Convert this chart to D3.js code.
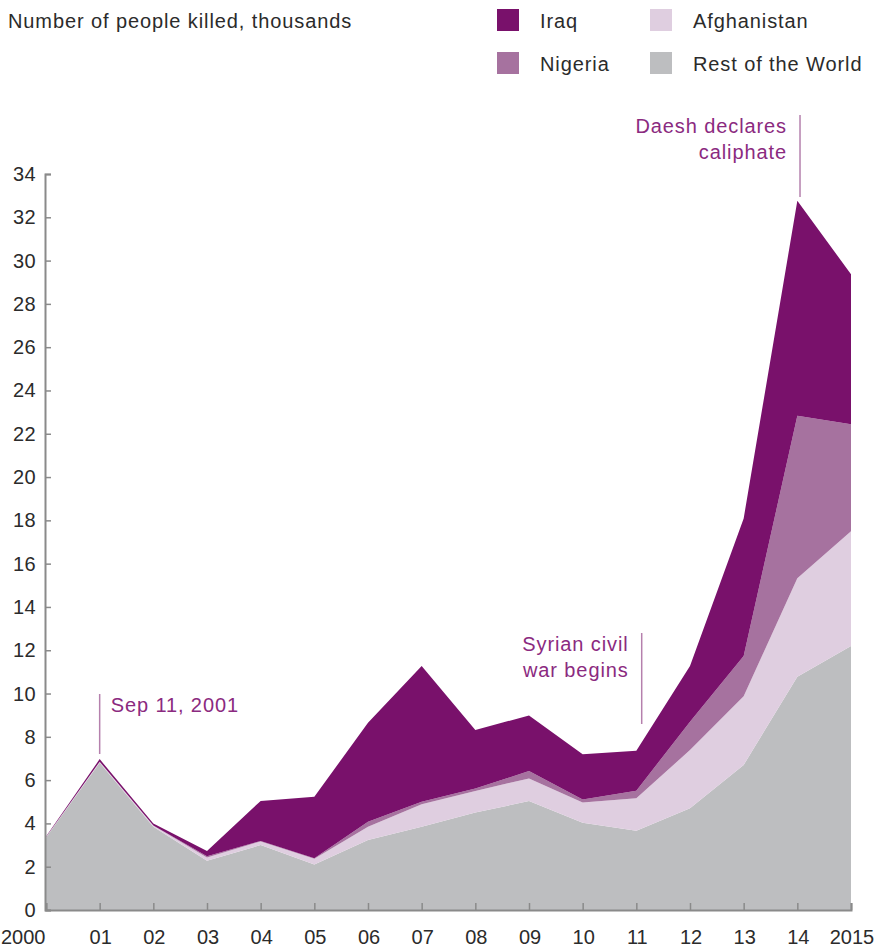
<!DOCTYPE html>
<html>
<head>
<meta charset="utf-8">
<script src="https://cdn.jsdelivr.net/npm/d3@7"></script>
<style>
  html, body { margin: 0; padding: 0; background: #fff; }
  svg { display: block; }
  text { font-family: "Liberation Sans", "Helvetica Neue", Arial, sans-serif; letter-spacing: 0.9px; }
  text.num { letter-spacing: 0.4px; }
  text.xlab { letter-spacing: 0; }
</style>
</head>
<body>
<svg id="chart" width="892" height="948"></svg>
<script>
// Deaths from terrorism, thousands
const years = [2000, 2001, 2002, 2003, 2004, 2005, 2006, 2007, 2008, 2009, 2010, 2011, 2012, 2013, 2014, 2015];
const restOfWorld = [3.35, 6.8, 3.85, 2.28, 3.0, 2.1, 3.23, 3.85, 4.5, 5.03, 4.03, 3.66, 4.70, 6.70, 10.78, 12.19];
const afghanistan = [0.02, 0.05, 0.05, 0.15, 0.17, 0.27, 0.62, 1.03, 1.0, 1.05, 0.94, 1.5, 2.69, 3.18, 4.54, 5.31];
const nigeria     = [0, 0, 0, 0.05, 0.02, 0.02, 0.23, 0.12, 0.11, 0.34, 0.14, 0.35, 1.31, 1.85, 7.51, 4.94];
const iraq        = [0.03, 0.12, 0.1, 0.25, 1.85, 2.84, 4.57, 6.27, 2.7, 2.57, 2.08, 1.85, 2.57, 6.36, 9.93, 6.93];

const xTickLabels = ["2000", "01", "02", "03", "04", "05", "06", "07", "08", "09", "10", "11", "12", "13", "14", "2015"];
const yTicks = [0, 2, 4, 6, 8, 10, 12, 14, 16, 18, 20, 22, 24, 26, 28, 30, 32, 34];

const seriesKeys = ["Rest of the World", "Afghanistan", "Nigeria", "Iraq"];
const seriesColors = {
  "Rest of the World": "#bdbec0",
  "Afghanistan": "#dfcee0",
  "Nigeria": "#a6729f",
  "Iraq": "#79116b"
};
const legendOrder = ["Iraq", "Afghanistan", "Nigeria", "Rest of the World"];

const events = [
  { year: 2001, lines: ["Sep 11, 2001"], side: "right", top: 694, bottom: 754 },
  { year: 2011.1, lines: ["Syrian civil", "war begins"], side: "left", top: 633, bottom: 724 },
  { year: 2014.05, lines: ["Daesh declares", "caliphate"], side: "left", top: 115, bottom: 197 }
];

const table = years.map((yr, i) => ({
  year: yr,
  "Rest of the World": restOfWorld[i],
  "Afghanistan": afghanistan[i],
  "Nigeria": nigeria[i],
  "Iraq": iraq[i]
}));

const svg = d3.select("#chart");
const x = d3.scaleLinear().domain([2000, 2015]).range([46, 851]);
const y = d3.scaleLinear().domain([0, 34]).range([910, 174]);

const stack = d3.stack().keys(seriesKeys);
const layers = stack(table);

const area = d3.area()
  .x(d => x(d.data.year))
  .y0(d => y(d[0]))
  .y1(d => y(d[1]));

svg.append("g")
  .selectAll("path")
  .data(layers)
  .join("path")
  .attr("fill", d => seriesColors[d.key])
  .attr("d", area);

// Axes
const axisColor = "#8a8a8a";
const textColor = "#2b2b2b";
const fontSize = 20;

const yAxis = svg.append("g")
  .attr("transform", `translate(${x(2000) - 1},0)`)
  .call(d3.axisRight(y).tickValues(yTicks).tickSize(6).tickFormat(""));
yAxis.select(".domain").attr("stroke", axisColor).attr("stroke-width", 2);
yAxis.selectAll(".tick line").attr("stroke", axisColor).attr("stroke-width", 1.5);

svg.append("g")
  .selectAll("text")
  .data(yTicks)
  .join("text")
  .attr("class", "num")
  .attr("x", 36)
  .attr("y", d => y(d))
  .attr("dy", "0.35em")
  .attr("text-anchor", "end")
  .attr("font-size", fontSize)
  .attr("fill", textColor)
  .text(d => d);

const xAxis = svg.append("g")
  .attr("transform", `translate(0,${y(0)})`)
  .call(d3.axisTop(x).tickValues(years).tickSize(7).tickFormat(""));
xAxis.select(".domain").attr("stroke", axisColor).attr("stroke-width", 2);
xAxis.selectAll(".tick line").attr("stroke", axisColor).attr("stroke-width", 1.5);

// The first year label sits flush with the left edge; the others centre on their ticks
svg.append("g")
  .selectAll("text")
  .data(years)
  .join("text")
  .attr("class", "xlab")
  .attr("x", (d, i) => i === 0 ? 1 : x(d) + 1)
  .attr("y", 944)
  .attr("text-anchor", (d, i) => i === 0 ? "start" : "middle")
  .attr("font-size", fontSize)
  .attr("fill", textColor)
  .text((d, i) => xTickLabels[i]);

// Title
svg.append("text")
  .attr("x", 8)
  .attr("y", 28)
  .attr("font-size", fontSize)
  .attr("fill", textColor)
  .text("Number of people killed, thousands");

// Legend
const legend = svg.append("g");
legendOrder.forEach((key, i) => {
  const col = i % 2, row = Math.floor(i / 2);
  const lx = 497 + col * 153, ly = 9 + row * 43;
  legend.append("rect")
    .attr("x", lx).attr("y", ly)
    .attr("width", 22).attr("height", 22)
    .attr("fill", seriesColors[key]);
  legend.append("text")
    .attr("x", lx + 43).attr("y", ly + 19)
    .attr("font-size", fontSize)
    .attr("fill", textColor)
    .text(key);
});

// Event annotations
const noteColor = "#8b2a80";
const lineColor = "#b580ad";
const notes = svg.append("g");
events.forEach(ev => {
  const ex = x(ev.year);
  notes.append("line")
    .attr("x1", ex).attr("x2", ex)
    .attr("y1", ev.top).attr("y2", ev.bottom)
    .attr("stroke", lineColor).attr("stroke-width", 1.5);
  ev.lines.forEach((ln, j) => {
    notes.append("text")
      .attr("x", ev.side === "right" ? ex + 11 : ex - 13)
      .attr("y", ev.top + 18 + j * 26)
      .attr("text-anchor", ev.side === "right" ? "start" : "end")
      .attr("font-size", fontSize)
      .attr("fill", noteColor)
      .text(ln);
  });
});
</script>
</body>
</html>
